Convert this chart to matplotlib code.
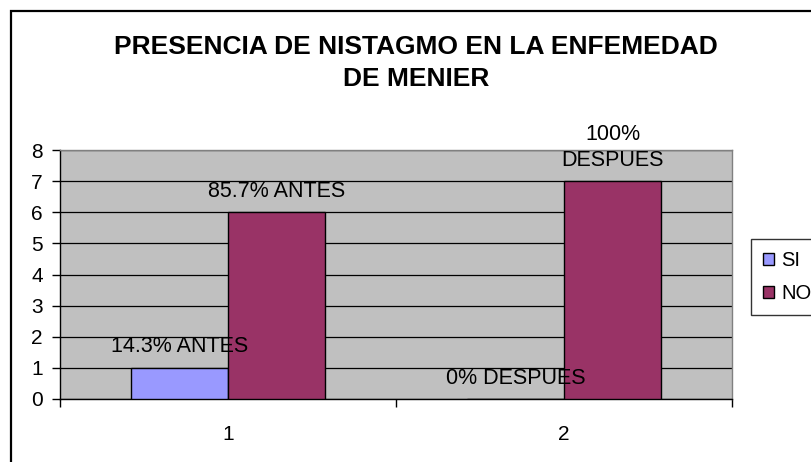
import matplotlib.pyplot as plt
from matplotlib.patches import Rectangle

# ---------------------------------------------------------------------------
# Data
# ---------------------------------------------------------------------------

categories = ["1", "2"]
series_names = ["SI", "NO"]
si_values = [1, 0]
no_values = [6, 7]
si_labels = ["14.3% ANTES", "0% DESPUES"]
no_labels = ["85.7% ANTES", "100%\nDESPUES"]
y_ticks = [0, 1, 2, 3, 4, 5, 6, 7, 8]

title = "PRESENCIA DE NISTAGMO EN LA ENFEMEDAD\nDE MENIER"

SI_COLOR = "#9999FF"
NO_COLOR = "#993366"
PLOT_BG = "#C0C0C0"

plt.rcParams["font.family"] = ["Liberation Sans", "DejaVu Sans"]

W, H = 811, 462
fig = plt.figure(figsize=(W / 100, H / 100), dpi=100)
fig.patch.set_facecolor("white")

# outer chart frame (clipped on the right and bottom like the original)
fig.patches.append(Rectangle((11 / W, -0.05), 1.0, 1 - 11 / H + 0.05,
                             transform=fig.transFigure, fill=False,
                             edgecolor="black", linewidth=1.6))

ax = fig.add_axes([60 / W, 1 - 399 / H, (732 - 60) / W, (399 - 150) / H])
ax.set_facecolor(PLOT_BG)

xs = list(range(1, len(categories) + 1))
bw = 0.289
si_x = [x - bw / 2 for x in xs]
no_x = [x + bw / 2 for x in xs]

ax.bar(si_x, si_values, width=bw, color=SI_COLOR, edgecolor="black",
       linewidth=1.0, label=series_names[0], zorder=3)
ax.bar(no_x, no_values, width=bw, color=NO_COLOR, edgecolor="black",
       linewidth=1.0, label=series_names[1], zorder=3)

for x, v, lab in zip(si_x, si_values, si_labels):
    ax.annotate(lab, (x, v), xytext=(0, 7.5), textcoords="offset points",
                ha="center", va="bottom", fontsize=15.5, zorder=5,
                annotation_clip=False)
for x, v, lab in zip(no_x, no_values, no_labels):
    ax.annotate(lab, (x, v), xytext=(0, 7.5), textcoords="offset points",
                ha="center", va="bottom", fontsize=15.5, zorder=5,
                linespacing=1.3, annotation_clip=False)

ax.set_xlim(0.5, len(categories) + 0.5)
ax.set_ylim(0, 8)
ax.set_yticks(y_ticks)
ax.yaxis.grid(True, color="black", linewidth=0.9, zorder=1)
ax.set_axisbelow(True)

# category boundaries as major ticks, names as minor ticks
ax.set_xticks([0.5 + i for i in range(len(categories) + 1)])
ax.set_xticklabels([])
ax.set_xticks(xs, minor=True)
ax.set_xticklabels(categories, minor=True)
ax.tick_params(axis="x", which="major", length=6, width=1.0, direction="out")
ax.tick_params(axis="x", which="minor", length=0, pad=19, labelsize=15)
ax.tick_params(axis="y", length=5.5, width=1.0, pad=7, labelsize=15)

for side in ["left", "bottom"]:
    ax.spines[side].set_color("black")
    ax.spines[side].set_linewidth(1.0)
for side in ["top", "right"]:
    ax.spines[side].set_color("#808080")
    ax.spines[side].set_linewidth(1.0)

fig.text(416 / W, 1 - 63 / H, title, ha="center", va="center",
         fontsize=19, fontweight="bold", linespacing=1.45)

leg = fig.legend(loc="upper left", bbox_to_anchor=(751 / W, 1 - 239 / H),
                 borderaxespad=0, frameon=True, fancybox=False,
                 edgecolor="black", fontsize=14.5, handlelength=0.55,
                 handleheight=0.55, handletextpad=0.35, labelspacing=0.7,
                 borderpad=0.6)
leg.get_frame().set_linewidth(1.0)

fig.savefig("out.png", dpi=100, facecolor="white")
